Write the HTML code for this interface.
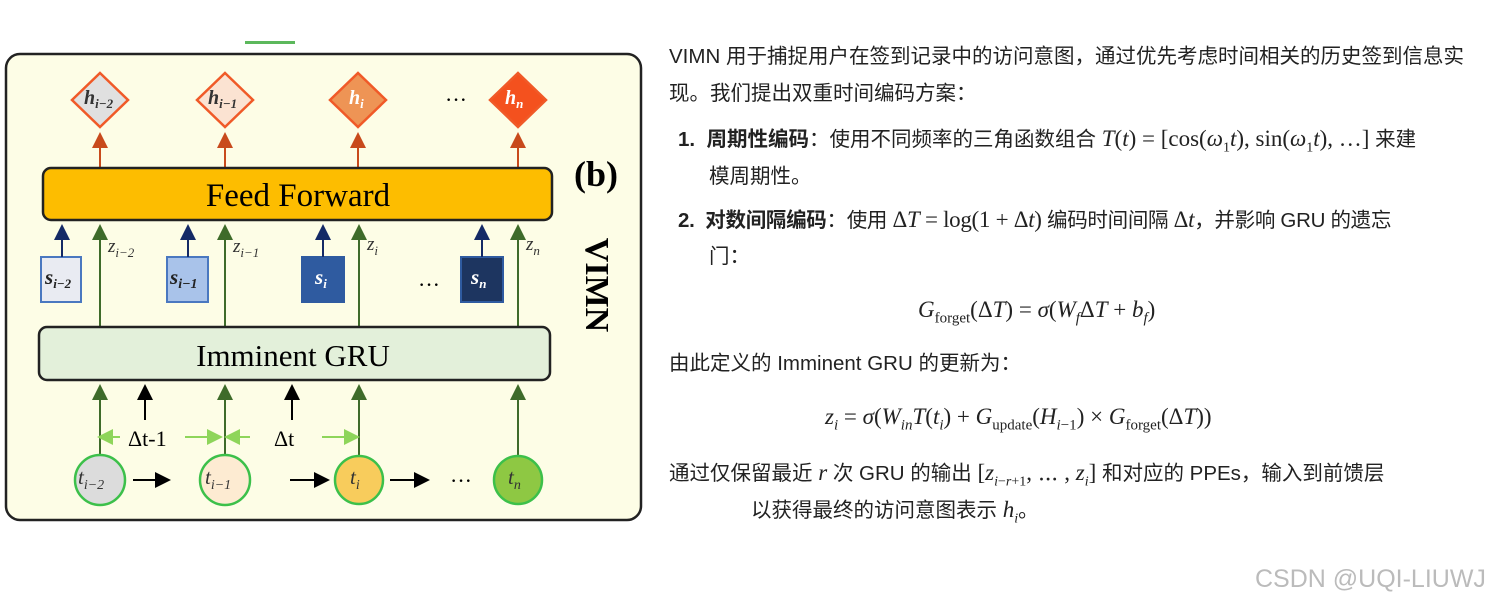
<!DOCTYPE html>
<html><head><meta charset="utf-8"><style>
body{margin:0;width:1501px;height:606px;background:#fff;position:relative;overflow:hidden;font-family:"Liberation Sans","Noto Sans CJK SC",sans-serif;}
.t{position:absolute;font-size:20.5px;color:#222;white-space:nowrap;line-height:26px;}
.m{font-family:"Liberation Serif","Noto Serif CJK SC",serif;font-size:23px;}
i{font-family:"Liberation Serif",serif;}
b{font-weight:bold;}
sub{line-height:0;}
</style></head><body>
<svg width="660" height="606" style="position:absolute;left:0;top:0" font-family="Liberation Serif,serif">
<defs>
<marker id="ao" markerWidth="8" markerHeight="8" refX="4" refY="4" orient="auto"><path d="M0,0L8,4L0,8z" fill="#c84a1c"/></marker>
<marker id="ag" markerWidth="8" markerHeight="8" refX="4" refY="4" orient="auto"><path d="M0,0L8,4L0,8z" fill="#3e6b2a"/></marker>
<marker id="ab" markerWidth="8" markerHeight="8" refX="4" refY="4" orient="auto"><path d="M0,0L8,4L0,8z" fill="#142a66"/></marker>
<marker id="ak" markerWidth="8" markerHeight="8" refX="4" refY="4" orient="auto"><path d="M0,0L8,4L0,8z" fill="#000"/></marker>
<marker id="al" markerWidth="8" markerHeight="8" refX="4" refY="4" orient="auto"><path d="M0,0L8,4L0,8z" fill="#8ed55a"/></marker>
</defs>
<rect x="245" y="41" width="50" height="3" fill="#5cb85c"/>
<rect x="6" y="54" width="635" height="466" rx="14" fill="#fdfde6" stroke="#222" stroke-width="2.5"/>
<g stroke="#f05a28" stroke-width="2.5">
<polygon points="100,73 128,100 100,127 72,100" fill="#e0e0e0"/>
<polygon points="225,73 253,100 225,127 197,100" fill="#fbe3d2"/>
<polygon points="358,73 386,100 358,127 330,100" fill="#ee9455"/>
<polygon points="518,73 546,100 518,127 490,100" fill="#f4511e"/>
</g>
<g font-style="italic" font-weight="bold" font-size="20">
<text x="84" y="104" fill="#333">h<tspan font-size="13" dy="4">i−2</tspan></text>
<text x="208" y="104" fill="#333">h<tspan font-size="13" dy="4">i−1</tspan></text>
<text x="349" y="104" fill="#fff">h<tspan font-size="13" dy="4">i</tspan></text>
<text x="505" y="104" fill="#fff">h<tspan font-size="13" dy="4">n</tspan></text>
</g>
<text x="445" y="107" font-size="22">···</text>
<g stroke="#c84a1c" stroke-width="2" marker-end="url(#ao)">
<line x1="100" y1="168" x2="100" y2="140"/><line x1="225" y1="168" x2="225" y2="140"/><line x1="358" y1="168" x2="358" y2="140"/><line x1="518" y1="168" x2="518" y2="140"/>
</g>
<rect x="43" y="168" width="509" height="52" rx="8" fill="#fdbd00" stroke="#222" stroke-width="2.5"/>
<text x="298" y="206" font-size="33" text-anchor="middle">Feed Forward</text>
<text x="574" y="186" font-size="36" font-weight="bold">(b)</text>
<text transform="translate(586,285) rotate(90)" font-size="34" font-weight="bold" text-anchor="middle">VIMN</text>
<rect x="41" y="257" width="40" height="45" fill="#e9ebf2" stroke="#4a78c0" stroke-width="2"/>
<rect x="167" y="257" width="41" height="45" fill="#a9c3ea" stroke="#4a78c0" stroke-width="2"/>
<rect x="302" y="257" width="42" height="45" fill="#2f5ba0" stroke="#2f5ba0" stroke-width="2"/>
<rect x="461" y="257" width="42" height="45" fill="#1d3560" stroke="#2f5ba0" stroke-width="2"/>
<g font-style="italic" font-weight="bold" font-size="21">
<text x="45" y="284" fill="#222">s<tspan font-size="13" dy="4">i−2</tspan></text>
<text x="170" y="284" fill="#222">s<tspan font-size="14" dy="4">i−1</tspan></text>
<text x="315" y="284" fill="#fff">s<tspan font-size="13" dy="4">i</tspan></text>
<text x="471" y="284" fill="#fff">s<tspan font-size="13" dy="4">n</tspan></text>
</g>
<text x="418" y="292" font-size="22">···</text>
<g stroke="#142a66" stroke-width="2" marker-end="url(#ab)">
<line x1="62" y1="257" x2="62" y2="232"/><line x1="188" y1="257" x2="188" y2="232"/><line x1="323" y1="257" x2="323" y2="232"/><line x1="482" y1="257" x2="482" y2="232"/>
</g>
<g stroke="#3e6b2a" stroke-width="2" marker-end="url(#ag)">
<line x1="100" y1="327" x2="100" y2="232"/><line x1="225" y1="327" x2="225" y2="232"/><line x1="359" y1="327" x2="359" y2="232"/><line x1="518" y1="327" x2="518" y2="232"/>
<line x1="100" y1="455" x2="100" y2="392"/><line x1="225" y1="455" x2="225" y2="392"/><line x1="359" y1="455" x2="359" y2="392"/><line x1="518" y1="455" x2="518" y2="392"/>
</g>
<g font-style="italic" font-size="19" fill="#333">
<text x="108" y="252">z<tspan font-size="13" dy="5">i−2</tspan></text>
<text x="233" y="252">z<tspan font-size="13" dy="5">i−1</tspan></text>
<text x="367" y="250">z<tspan font-size="13" dy="5">i</tspan></text>
<text x="526" y="250">z<tspan font-size="13" dy="5">n</tspan></text>
</g>
<rect x="39" y="327" width="511" height="53" rx="8" fill="#e3f0da" stroke="#222" stroke-width="2.5"/>
<text x="293" y="366" font-size="31" text-anchor="middle">Imminent GRU</text>
<g stroke="#000" stroke-width="2" marker-end="url(#ak)">
<line x1="145" y1="420" x2="145" y2="392"/><line x1="292" y1="420" x2="292" y2="392"/>
<line x1="133" y1="480" x2="163" y2="480"/><line x1="290" y1="480" x2="322" y2="480"/><line x1="390" y1="480" x2="422" y2="480"/>
</g>
<g stroke="#8ed55a" stroke-width="2" marker-end="url(#al)">
<line x1="120" y1="437" x2="105" y2="437"/><line x1="185" y1="437" x2="215" y2="437"/><line x1="250" y1="437" x2="232" y2="437"/><line x1="322" y1="437" x2="352" y2="437"/>
</g>
<text x="128" y="446" font-size="22">Δt-1</text>
<text x="274" y="446" font-size="22">Δt</text>
<g stroke="#3cc04a" stroke-width="2.5">
<circle cx="100" cy="480" r="25" fill="#dcdcdc"/>
<circle cx="225" cy="480" r="25" fill="#fdebd2"/>
<circle cx="359" cy="480" r="24" fill="#f8cc5c"/>
<circle cx="518" cy="480" r="24" fill="#8ec843"/>
</g>
<g font-style="italic" font-size="21" fill="#333">
<text x="78" y="484">t<tspan font-size="14" dy="5">i−2</tspan></text>
<text x="205" y="484">t<tspan font-size="14" dy="5">i−1</tspan></text>
<text x="350" y="484">t<tspan font-size="14" dy="5">i</tspan></text>
<text x="508" y="484">t<tspan font-size="14" dy="5">n</tspan></text>
</g>
<text x="450" y="488" font-size="22">···</text>
</svg>

<div class="t" style="left:669px;top:44px">VIMN 用于捕捉用户在签到记录中的访问意图，通过优先考虑时间相关的历史签到信息实</div>
<div class="t" style="left:669px;top:81px">现。我们提出双重时间编码方案：</div>
<div class="t" style="left:678px;top:126px"><b>1.</b>&nbsp; <b>周期性编码</b>：使用不同频率的三角函数组合 <span class="m"><i>T</i>(<i>t</i>) = [cos(<i>ω</i><sub style="font-size:14px">1</sub><i>t</i>), sin(<i>ω</i><sub style="font-size:14px">1</sub><i>t</i>), …]</span> 来建</div>
<div class="t" style="left:709px;top:164px">模周期性。</div>
<div class="t" style="left:678px;top:207px;letter-spacing:-0.3px"><b>2.</b>&nbsp; <b>对数间隔编码</b>：使用 <span class="m">Δ<i>T</i> = log(1 + Δ<i>t</i>)</span> 编码时间间隔 <span class="m">Δ<i>t</i></span>，并影响 GRU 的遗忘</div>
<div class="t" style="left:709px;top:244px">门：</div>
<div class="t m" style="left:918px;top:297px"><i>G</i><sub style="font-size:15px">forget</sub>(Δ<i>T</i>) = <i>σ</i>(<i>W<sub style="font-size:15px">f</sub></i>Δ<i>T</i> + <i>b<sub style="font-size:15px">f</sub></i>)</div>
<div class="t" style="left:669px;top:351px">由此定义的 Imminent GRU 的更新为：</div>
<div class="t m" style="left:825px;top:404px"><i>z<sub style="font-size:15px">i</sub></i> = <i>σ</i>(<i>W<sub style="font-size:15px">in</sub>T</i>(<i>t<sub style="font-size:15px">i</sub></i>) + <i>G</i><sub style="font-size:15px">update</sub>(<i>H</i><sub style="font-size:15px"><i>i</i>−1</sub>) × <i>G</i><sub style="font-size:15px">forget</sub>(Δ<i>T</i>))</div>
<div class="t" style="left:669px;top:460px">通过仅保留最近 <span class="m"><i>r</i></span> 次 GRU 的输出 <span class="m">[<i>z</i><sub style="font-size:14px"><i>i</i>−<i>r</i>+1</sub>, ⋯ , <i>z<sub style="font-size:14px">i</sub></i>]</span> 和对应的 PPEs，输入到前馈层</div>
<div class="t" style="left:751px;top:497px">以获得最终的访问意图表示 <span class="m"><i>h<sub style="font-size:14px">i</sub></i></span>。</div>
<div class="t" style="left:1255px;top:564px;font-size:25px;line-height:30px;color:#bbb">CSDN @UQI-LIUWJ</div>
</body></html>
